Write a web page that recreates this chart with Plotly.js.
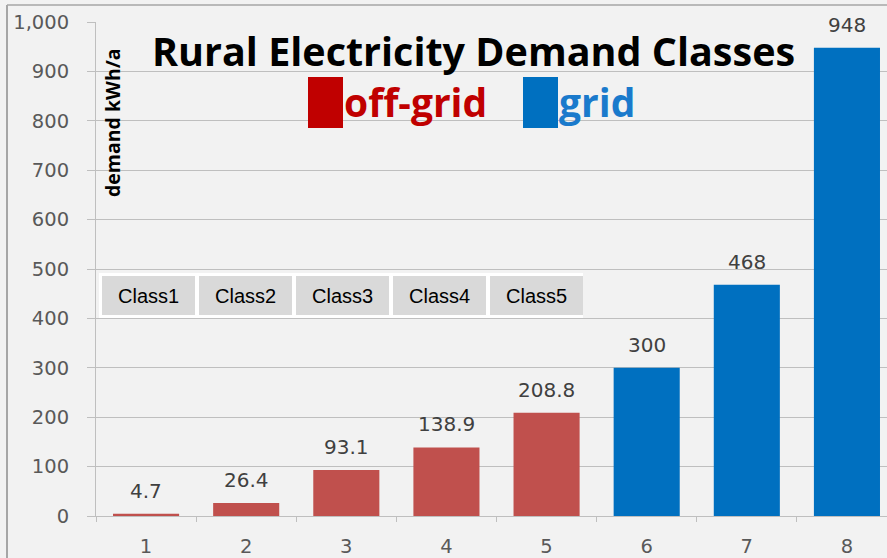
<!DOCTYPE html>
<html>
<head>
<meta charset="utf-8">
<script src="https://cdn.plot.ly/plotly-3.0.1.min.js"></script>
<style>html,body{margin:0;padding:0;background:#f2f2f2;}#chart{width:887px;height:558px;}</style>
</head>
<body>
<div id="chart"></div>
<script>
// ---- data ----
const categories = ['1','2','3','4','5','6','7','8'];
const demand = [4.7, 26.4, 93.1, 138.9, 208.8, 300, 468, 948];
const valueLabels = ['4.7','26.4','93.1','138.9','208.8','300','468','948'];
const supplyType = ['off-grid','off-grid','off-grid','off-grid','off-grid','grid','grid','grid'];
const classLabels = ['Class1','Class2','Class3','Class4','Class5'];
const yTickVals = [0,100,200,300,400,500,600,700,800,900,1000];
const yTickText = ['0','100','200','300','400','500','600','700','800','900','1,000'];

// ---- style ----
const W = 887, H = 558, ML = 96, MR = 0, MT = 22, MB = 42;
const PW = W - ML - MR, PH = H - MT - MB;
const colorOf = {'off-grid': '#c0504d', 'grid': '#0070c0'};
const px2x = p => (p - ML) / PW;           // pixel -> paper x
const px2y = p => (H - MB - p) / PH;       // pixel -> paper y
const titleFont = 'Open Sans, sans-serif';
const numFont = 'DejaVu Sans, Verdana, sans-serif';

const shapes = [];
const annotations = [];

// outer chart border (left + top)
shapes.push({type:'line', xref:'paper', yref:'paper', x0:px2x(7), x1:px2x(7), y0:px2y(5), y1:px2y(560), line:{color:'#8c8c8c', width:1.5}});
shapes.push({type:'line', xref:'paper', yref:'paper', x0:px2x(7), x1:px2x(890), y0:px2y(5), y1:px2y(5), line:{color:'#a6a6a6', width:1.5}});

// class table: white backing + grey cells
const tblLeft = 99, tblTop = 273, tblBot = 318, cellStep = 97, cellW = 93;
shapes.push({type:'rect', xref:'paper', yref:'paper', x0:px2x(tblLeft), x1:px2x(tblLeft + cellStep*classLabels.length - 1), y0:px2y(tblBot), y1:px2y(tblTop), fillcolor:'#ffffff', line:{width:0}, layer:'above'});
classLabels.forEach((c, i) => {
  const l = tblLeft + 3 + i*cellStep;
  shapes.push({type:'rect', xref:'paper', yref:'paper', x0:px2x(l), x1:px2x(l + cellW), y0:px2y(tblBot - 3), y1:px2y(tblTop + 3), fillcolor:'#d9d9d9', line:{width:0}, layer:'above'});
  annotations.push({xref:'paper', yref:'paper', x:px2x(l + cellW/2), y:px2y((tblTop + tblBot)/2), text:c, showarrow:false, xanchor:'center', yanchor:'middle', font:{family:'Liberation Sans, Arial, sans-serif', size:20, color:'#000000'}});
});

// title
annotations.push({xref:'paper', yref:'paper', x:px2x(473), y:px2y(51), text:'<b>Rural Electricity Demand Classes</b>', showarrow:false, xanchor:'center', yanchor:'middle', font:{family:titleFont, size:39.5, color:'#000000'}});
// legend-like squares and labels
shapes.push({type:'rect', xref:'paper', yref:'paper', x0:px2x(308), x1:px2x(343), y0:px2y(128), y1:px2y(77), fillcolor:'#c00000', line:{width:0}});
shapes.push({type:'rect', xref:'paper', yref:'paper', x0:px2x(523), x1:px2x(558), y0:px2y(128), y1:px2y(77), fillcolor:'#0070c0', line:{width:0}});
annotations.push({xref:'paper', yref:'paper', x:px2x(342), y:px2y(102), text:'<b>off-grid</b>', showarrow:false, xanchor:'left', yanchor:'middle', font:{family:titleFont, size:39, color:'#c00000'}});
annotations.push({xref:'paper', yref:'paper', x:px2x(557), y:px2y(102), text:'<b>grid</b>', showarrow:false, xanchor:'left', yanchor:'middle', font:{family:titleFont, size:39, color:'#1a7acc'}});
// y-axis title inside plot
annotations.push({xref:'paper', yref:'paper', x:px2x(112), y:px2y(123), text:'<b>demand kWh/a</b>', textangle:-90, showarrow:false, xanchor:'center', yanchor:'middle', font:{family:titleFont, size:19.5, color:'#000000'}});

// value labels above bars
categories.forEach((c, i) => {
  annotations.push({xref:'x', yref:'y', x:i, y:demand[i], text:valueLabels[i], showarrow:false, xanchor:'center', yanchor:'bottom', yshift:9, font:{family:numFont, size:20, color:'#404040'}});
});

const trace = {
  type:'bar',
  x: categories,
  y: demand,
  marker:{color: supplyType.map(s => colorOf[s]), line:{width:0}},
  hoverinfo:'x+y',
  cliponaxis:false
};

const layout = {
  width:W, height:H,
  margin:{l:ML, r:MR, t:MT, b:MB, pad:0},
  paper_bgcolor:'#f2f2f2',
  plot_bgcolor:'#f2f2f2',
  showlegend:false,
  bargap:0.34,
  xaxis:{
    type:'category',
    range:[-0.5, 7.4],
    showgrid:false,
    showline:true, linecolor:'#bfbfbf', linewidth:1,
    ticks:'outside', tickson:'boundaries', ticklen:5, tickcolor:'#bfbfbf',
    tickfont:{family:numFont, size:19.5, color:'#595959'},
    ticklabelstandoff:13,
    zeroline:false, fixedrange:true
  },
  yaxis:{
    range:[0, 1000],
    tickvals:yTickVals, ticktext:yTickText,
    showgrid:true, gridcolor:'#bfbfbf', gridwidth:1,
    showline:true, linecolor:'#bfbfbf', linewidth:1,
    ticks:'outside', ticklen:8, tickcolor:'#bfbfbf',
    tickfont:{family:numFont, size:19.5, color:'#595959'},
    ticklabelstandoff:14,
    zeroline:false, fixedrange:true
  },
  shapes:shapes,
  annotations:annotations
};

Plotly.newPlot('chart', [trace], layout, {displayModeBar:false, staticPlot:true});
</script>
</body>
</html>
